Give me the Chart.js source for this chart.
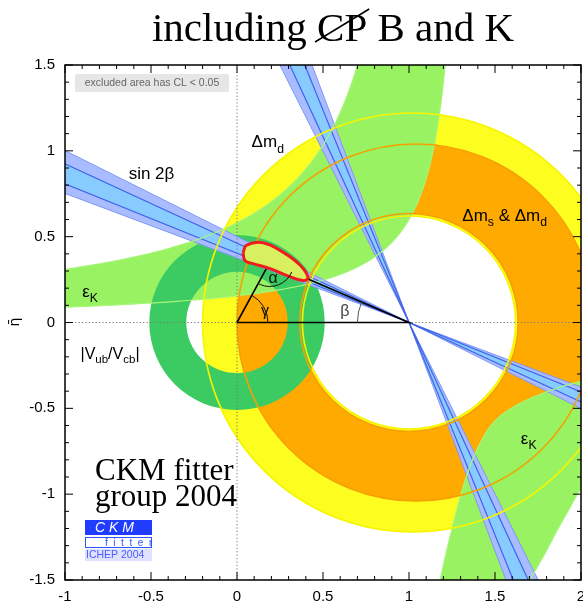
<!DOCTYPE html>
<html>
<head>
<meta charset="utf-8">
<script src="https://cdn.jsdelivr.net/npm/chart.js@4.4.0/dist/chart.umd.min.js"></script>
<style>
html, body { margin: 0; padding: 0; background: #fff; }
#wrap { width: 583px; height: 608px; position: relative; }
</style>
</head>
<body>
<div id="wrap"><canvas id="c"></canvas></div>
<script>
// axis ticks
var xTickVals = [-1, -0.5, 0, 0.5, 1, 1.5, 2];
var xTickLabels = ['-1', '-0.5', '0', '0.5', '1', '1.5', '2'];
var yTickVals = [-1.5, -1, -0.5, 0, 0.5, 1, 1.5];
var yTickLabels = ['-1.5', '-1', '-0.5', '0', '0.5', '1', '1.5'];

// apex of the unitarity triangle (rho, eta)
var apex = [0.19, 0.35];
var triRho = [0, apex[0], 1, 0];
var triEta = [0, apex[1], 0, 0];

// circles [centre rho, radius] : inner, outer  (centre eta = 0)
var dmdCircles = [[1.0, 0.62], [1.02, 1.22]];    // Δm_d
var dmsCircles = [[1.0, 0.635], [1.04, 1.04]];   // Δm_s & Δm_d
var vubCircles = [[0, 0.295], [0, 0.51]];        // |Vub/Vcb|

// sin2β bands, angle at (1,0) in degrees
var beta2s = [20.6, 26.6];
var beta1s = [22.0, 24.8];

// εK upper branch edges: eta*(rho0 - rho) = k  ->  [rho0, k]
var epsUpper = [[1.35, 0.21], [1.143, 0.664]];
// εK lower branch edges
var epsLowInRho = [2.1, 2.0, 1.8, 1.62, 1.49, 1.40, 1.33, 1.28, 1.23, 1.18, 1.165];
var epsLowInEta = [-0.32, -0.34, -0.40, -0.48, -0.57, -0.72, -0.90, -1.08, -1.28, -1.5, -1.6];
var epsLowOutRho = [1.66, 1.70, 1.79, 1.86, 1.93, 2.0, 2.1];
var epsLowOutEta = [-1.6, -1.5, -1.35, -1.21, -1.09, -0.96, -0.84];

// combined fit contour
var fitRho = [0.035, 0.055, 0.151, 0.267, 0.366, 0.413, 0.384, 0.291, 0.192, 0.093, 0.047];
var fitEta = [0.405, 0.45, 0.465, 0.41, 0.335, 0.262, 0.244, 0.273, 0.314, 0.343, 0.36];

var D = Math.PI / 180;
var SANS = '"Liberation Sans", Arial, sans-serif';
var SERIF = '"Liberation Serif", "Times New Roman", serif';

Chart.defaults.font.family = SANS;

function hyperPts(p, e0, e1, n) {
    // points along eta*(rho0-rho)=k, eta from e0 to e1
    var pts = [];
    for (var i = 0; i <= n; i++) {
        var e = e0 * Math.pow(e1 / e0, i / n);
        pts.push([p[0] - p[1] / e, e]);
    }
    return pts;
}
function zip(a, b) { return a.map(function(v, i) { return [v, b[i]]; }); }

var regions = {
    id: 'regions',
    beforeDatasetsDraw: function(chart) {
        var ctx = chart.ctx, a = chart.chartArea;
        var sx = chart.scales.x, sy = chart.scales.y;
        var X = function(v) { return sx.getPixelForValue(v); };
        var Y = function(v) { return sy.getPixelForValue(v); };
        var ux = X(1) - X(0), uy = Y(0) - Y(1);

        function ringPath(cs) {
            ctx.beginPath();
            ctx.ellipse(X(cs[1][0]), Y(0), cs[1][1] * ux, cs[1][1] * uy, 0, 0, 2 * Math.PI);
            ctx.moveTo(X(cs[0][0]) + cs[0][1] * ux, Y(0));
            ctx.ellipse(X(cs[0][0]), Y(0), cs[0][1] * ux, cs[0][1] * uy, 0, 0, 2 * Math.PI);
        }
        function circle(c, col, w) {
            ctx.beginPath();
            ctx.ellipse(X(c[0]), Y(0), c[1] * ux, c[1] * uy, 0, 0, 2 * Math.PI);
            ctx.strokeStyle = col; ctx.lineWidth = w; ctx.stroke();
        }
        function poly(pts, move) {
            for (var i = 0; i < pts.length; i++) {
                if (i === 0 && move) ctx.moveTo(X(pts[i][0]), Y(pts[i][1]));
                else ctx.lineTo(X(pts[i][0]), Y(pts[i][1]));
            }
        }
        function smooth(pts, move) {
            var n = pts.length;
            if (move) ctx.moveTo(X(pts[0][0]), Y(pts[0][1]));
            else ctx.lineTo(X(pts[0][0]), Y(pts[0][1]));
            for (var i = 1; i < n - 1; i++) {
                var mx = (pts[i][0] + pts[i + 1][0]) / 2, my = (pts[i][1] + pts[i + 1][1]) / 2;
                ctx.quadraticCurveTo(X(pts[i][0]), Y(pts[i][1]), X(mx), Y(my));
            }
            ctx.lineTo(X(pts[n - 1][0]), Y(pts[n - 1][1]));
        }
        var upA = hyperPts(epsUpper[1], epsUpper[1][1] / (epsUpper[1][0] + 1.1), 1.6, 120);
        var upB = hyperPts(epsUpper[0], epsUpper[0][1] / (epsUpper[0][0] + 1.1), 1.6, 120);
        var lowIn = zip(epsLowInRho, epsLowInEta);
        var lowOut = zip(epsLowOutRho, epsLowOutEta);

        function wedge(a1, a2) {
            var L = 5;
            var d1 = [-Math.cos(a1 * D), Math.sin(a1 * D)], d2 = [-Math.cos(a2 * D), Math.sin(a2 * D)];
            ctx.beginPath();
            poly([[1, 0], [1 + L * d1[0], L * d1[1]], [1 + L * d2[0], L * d2[1]]], true);
            ctx.closePath();
            poly([[1, 0], [1 - L * d1[0], -L * d1[1]], [1 - L * d2[0], -L * d2[1]]], true);
            ctx.closePath();
        }
        function bline(ang, col, w) {
            var L = 5, d = [-Math.cos(ang * D), Math.sin(ang * D)];
            ctx.beginPath();
            poly([[1 - L * d[0], -L * d[1]], [1 + L * d[0], L * d[1]]], true);
            ctx.strokeStyle = col; ctx.lineWidth = w; ctx.stroke();
        }

        ctx.save();
        ctx.beginPath();
        ctx.rect(a.left, a.top, a.right - a.left, a.bottom - a.top);
        ctx.clip();

        // Δm_d
        ringPath(dmdCircles); ctx.fillStyle = '#fdfd1f'; ctx.fill('evenodd');
        // Δm_s & Δm_d
        ringPath(dmsCircles); ctx.fillStyle = '#ffaa00'; ctx.fill('evenodd');
        // εK
        ctx.fillStyle = '#99f262';
        ctx.beginPath(); poly(upA, true); poly(upB.slice().reverse(), false); ctx.closePath(); ctx.fill();
        ctx.beginPath(); smooth(lowIn, true); smooth(lowOut, false); ctx.closePath(); ctx.fill();
        // |Vub/Vcb|
        ringPath(vubCircles); ctx.fillStyle = '#3ccb62'; ctx.fill('evenodd');

        // sin2β, both solutions
        var sols = [[beta2s, beta1s], [[90 - beta2s[1], 90 - beta2s[0]], [90 - beta1s[1], 90 - beta1s[0]]]];
        sols.forEach(function(s) {
            wedge(s[0][0], s[0][1]); ctx.fillStyle = '#a9bcff'; ctx.fill();
            wedge(s[1][0], s[1][1]); ctx.fillStyle = '#88ccff'; ctx.fill();
            bline(s[0][0], '#8097f5', 1); bline(s[0][1], '#8097f5', 1);
            bline(s[1][0], '#3f62ea', 1.2); bline(s[1][1], '#3f62ea', 1.2);
        });

        // outlines on top
        ctx.strokeStyle = '#a6f57a'; ctx.lineWidth = 1.2;
        ctx.beginPath(); poly(upA, true); ctx.stroke();
        ctx.beginPath(); poly(upB, true); ctx.stroke();
        ctx.beginPath(); smooth(lowIn, true); ctx.stroke();
        ctx.beginPath(); smooth(lowOut, true); ctx.stroke();
        circle(dmdCircles[0], '#f5f500', 1.6);
        circle(dmdCircles[1], '#f5f500', 1.6);
        circle(dmsCircles[0], '#f5a000', 1.6);
        circle(dmsCircles[1], '#f5a000', 1.6);

        // dotted axes
        ctx.setLineDash([1.2, 2.2]);
        ctx.strokeStyle = '#777'; ctx.lineWidth = 1;
        ctx.beginPath();
        ctx.moveTo(X(0), a.top); ctx.lineTo(X(0), a.bottom);
        ctx.moveTo(a.left, Y(0)); ctx.lineTo(a.right, Y(0));
        ctx.stroke();
        ctx.setLineDash([]);
        ctx.restore();
    }
};

function rich(ctx, parts, px, py, size, col) {
    var cx = px;
    ctx.fillStyle = col || '#000';
    ctx.textBaseline = 'alphabetic';
    ctx.textAlign = 'left';
    parts.forEach(function(p) {
        var s = p.sub ? size * 0.72 : size;
        ctx.font = s + 'px ' + SANS;
        ctx.fillText(p.t, cx, py + (p.sub ? size * 0.3 : 0));
        cx += ctx.measureText(p.t).width;
    });
}

var labels = [
    { parts: [{ t: 'sin 2β' }], at: [-0.63, 0.835], size: 17 },
    { parts: [{ t: 'Δm' }, { t: 'd', sub: true }], at: [0.085, 1.02], size: 17 },
    { parts: [{ t: 'Δm' }, { t: 's', sub: true }, { t: ' & Δm' }, { t: 'd', sub: true }], at: [1.31, 0.59], size: 17 },
    { parts: [{ t: 'ε' }, { t: 'K', sub: true }], at: [-0.9, 0.15], size: 17 },
    { parts: [{ t: 'ε' }, { t: 'K', sub: true }], at: [1.65, -0.71], size: 17 },
    { parts: [{ t: '|V' }, { t: 'ub', sub: true }, { t: '/V' }, { t: 'cb', sub: true }, { t: '|' }], at: [-0.91, -0.21], size: 16 }
];

var overlay = {
    id: 'overlay',
    afterDatasetsDraw: function(chart) {
        var ctx = chart.ctx, a = chart.chartArea;
        var sx = chart.scales.x, sy = chart.scales.y;
        var X = function(v) { return sx.getPixelForValue(v); };
        var Y = function(v) { return sy.getPixelForValue(v); };
        var ux = X(1) - X(0);
        ctx.save();

        // angle arcs
        var th = Math.atan2(apex[1], apex[0]);
        var bt = Math.atan2(apex[1], 1 - apex[0]);
        ctx.strokeStyle = '#111'; ctx.lineWidth = 1;
        ctx.beginPath(); ctx.arc(X(0), Y(0), 0.18 * ux, -th, 0); ctx.stroke();
        ctx.beginPath(); ctx.arc(X(apex[0]), Y(apex[1]), 0.14 * ux, bt, Math.PI - th + 0); ctx.stroke();
        ctx.strokeStyle = '#555';
        ctx.beginPath(); ctx.arc(X(1), Y(0), 0.3 * ux, -Math.PI, -Math.PI + bt); ctx.stroke();

        ctx.font = '16px ' + SANS;
        ctx.textAlign = 'center'; ctx.textBaseline = 'middle';
        ctx.fillStyle = '#111';
        ctx.fillText('γ', X(0.163), Y(0.064));
        ctx.fillText('α', X(0.21), Y(0.255));
        ctx.fillStyle = '#444';
        ctx.fillText('β', X(0.627), Y(0.066));

        labels.forEach(function(l) { rich(ctx, l.parts, X(l.at[0]), Y(l.at[1]), l.size); });

        // excluded area box
        ctx.fillStyle = '#e6e6e6';
        ctx.beginPath();
        ctx.roundRect(75, 74, 154, 18, 2);
        ctx.fill();
        ctx.fillStyle = '#666';
        ctx.font = '10.5px ' + SANS;
        ctx.textAlign = 'center'; ctx.textBaseline = 'middle';
        ctx.fillText('excluded area has CL < 0.05', 152, 83.5);

        // CKM fitter group
        ctx.fillStyle = '#000';
        ctx.font = '31px ' + SERIF;
        ctx.textAlign = 'left'; ctx.textBaseline = 'alphabetic';
        ctx.fillText('CKM fitter', 95, 480);
        ctx.fillText('group 2004', 95, 506);

        // logo
        ctx.fillStyle = '#1f3cff';
        ctx.fillRect(85, 520, 67, 15);
        ctx.fillStyle = '#fff';
        ctx.font = 'italic 14px ' + SANS;
        ctx.textAlign = 'left'; ctx.textBaseline = 'middle';
        ctx.fillText('C K M', 95, 528);
        ctx.strokeStyle = '#3355ff'; ctx.lineWidth = 1;
        ctx.strokeRect(85.5, 537.5, 66, 10);
        ctx.fillStyle = '#3355ff';
        ctx.font = '10px ' + SANS;
        ctx.fillText('f  i  t  t  e  r', 105, 543);
        ctx.fillStyle = '#dfe2ff';
        ctx.fillRect(85, 549, 67, 12);
        ctx.fillStyle = '#4d5dff';
        ctx.font = '10.5px ' + SANS;
        ctx.fillText('ICHEP 2004', 86, 555.5);

        // frame and ticks
        ctx.strokeStyle = '#000'; ctx.lineWidth = 1.5;
        ctx.strokeRect(a.left, a.top, a.right - a.left, a.bottom - a.top);
        ctx.lineWidth = 1;
        ctx.beginPath();
        for (var i = 0; i <= 30; i++) {
            var v = -1 + i * 0.1, len = (i % 5 === 0) ? 8 : 4;
            ctx.moveTo(X(v), a.bottom); ctx.lineTo(X(v), a.bottom - len);
            ctx.moveTo(X(v), a.top); ctx.lineTo(X(v), a.top + len);
            var w = -1.5 + i * 0.1;
            ctx.moveTo(a.left, Y(w)); ctx.lineTo(a.left + len, Y(w));
            ctx.moveTo(a.right, Y(w)); ctx.lineTo(a.right - len, Y(w));
        }
        ctx.stroke();

        // y axis label
        ctx.save();
        ctx.translate(15, 322);
        ctx.rotate(-Math.PI / 2);
        ctx.fillStyle = '#000';
        ctx.font = '14px "DejaVu Sans"';
        ctx.textAlign = 'center'; ctx.textBaseline = 'middle';
        ctx.fillText('η̄', 0, 0);
        ctx.restore();

        // title
        ctx.font = '41px ' + SERIF;
        ctx.fillStyle = '#000';
        ctx.textBaseline = 'alphabetic'; ctx.textAlign = 'left';
        var p1 = 'including ', p2 = 'CP', p3 = ' B and K';
        var w1 = ctx.measureText(p1).width, w2 = ctx.measureText(p2).width, w3 = ctx.measureText(p3).width;
        var x0 = 333 - (w1 + w2 + w3) / 2, base = 41;
        ctx.fillText(p1, x0, base);
        ctx.fillText(p2, x0 + w1, base);
        ctx.fillText(p3, x0 + w1 + w2, base);
        ctx.lineWidth = 1.5;
        ctx.beginPath();
        ctx.moveTo(x0 + w1 - 2, base + 1);
        ctx.lineTo(x0 + w1 + w2 + 2, base - 32);
        ctx.stroke();

        ctx.restore();
    }
};

function pickLabel(vals, labs) {
    return function(v) {
        for (var i = 0; i < vals.length; i++) if (Math.abs(vals[i] - v) < 1e-6) return labs[i];
        return '';
    };
}

new Chart(document.getElementById('c'), {
    type: 'scatter',
    data: {
        datasets: [{
            label: 'combined fit',
            data: fitRho.map(function(r, i) { return { x: r, y: fitEta[i] }; }).concat([{ x: fitRho[0], y: fitEta[0] }]),
            showLine: true,
            fill: 'shape',
            backgroundColor: '#d8f060',
            borderColor: '#ee1c1c',
            borderWidth: 3,
            tension: 0.4,
            pointRadius: 0
        }, {
            label: 'triangle',
            data: triRho.map(function(r, i) { return { x: r, y: triEta[i] }; }),
            showLine: true,
            fill: false,
            borderColor: '#000',
            borderWidth: 1.6,
            tension: 0,
            pointRadius: 0
        }]
    },
    options: {
        responsive: true,
        maintainAspectRatio: false,
        animation: false,
        devicePixelRatio: 1,
        layout: { padding: { top: 65, right: 2, left: 0, bottom: 0 } },
        plugins: { legend: { display: false }, title: { display: false }, tooltip: { enabled: false } },
        scales: {
            x: {
                type: 'linear', min: -1, max: 2,
                grid: { display: false, drawTicks: false },
                border: { display: false },
                ticks: { stepSize: 0.5, padding: 8, color: '#000', font: { size: 15 }, maxRotation: 0, autoSkip: false,
                         callback: pickLabel(xTickVals, xTickLabels) },
                afterFit: function(s) { s.height = 28; s.paddingLeft = 0; s.paddingRight = 0; }
            },
            y: {
                type: 'linear', min: -1.5, max: 1.5,
                grid: { display: false, drawTicks: false },
                border: { display: false },
                ticks: { stepSize: 0.5, padding: 10, color: '#000', font: { size: 15 }, autoSkip: false,
                         callback: pickLabel(yTickVals, yTickLabels) },
                afterFit: function(s) { s.width = 65; s.paddingTop = 0; s.paddingBottom = 0; }
            }
        }
    },
    plugins: [regions, overlay]
});
</script>
</body>
</html>
